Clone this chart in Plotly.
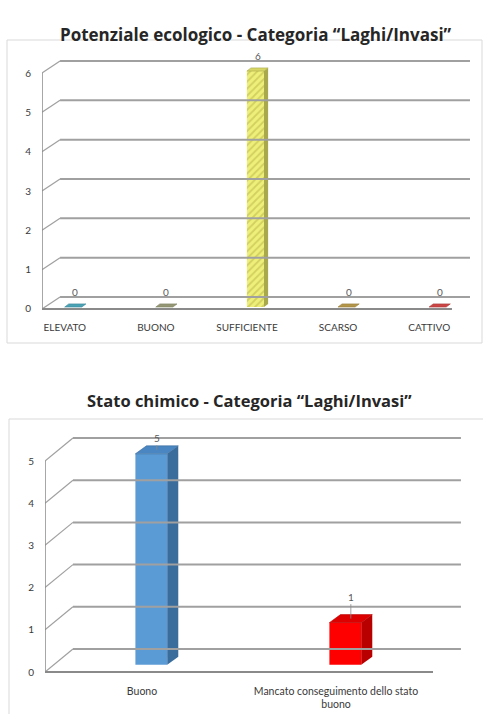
import plotly.graph_objects as go

# ---------------------------------------------------------------- data
eco_title = "Potenziale ecologico - Categoria \u201cLaghi/Invasi\u201d"
eco_categories = ["ELEVATO", "BUONO", "SUFFICIENTE", "SCARSO", "CATTIVO"]
eco_values = [0, 0, 6, 0, 0]
eco_ticks = [0, 1, 2, 3, 4, 5, 6]

chem_title = "Stato chimico - Categoria \u201cLaghi/Invasi\u201d"
chem_categories = ["Buono", "Mancato conseguimento dello stato<br>buono"]
chem_values = [5, 1]
chem_ticks = [0, 1, 2, 3, 4, 5]

# ---------------------------------------------------------------- styles
W, H = 483, 714

eco_face = ["#5ab4c6", "#a9ab86", "#eeee7a", "#c9ab5a", "#e35656"]
eco_hatch = ["#3b8ea0", "#7e8060", "#b5b346", "#9c7f35", "#b83030"]
eco_side = ["#3c8798", "#7f8163", "#a9a94c", "#977c3a", "#a83a3a"]
eco_top = ["#4aa2b4", "#959774", "#d6d664", "#b3964a", "#cc4646"]

chem_face = ["#5b9bd5", "#ff0000"]
chem_side = ["#3a6c9c", "#b80000"]
chem_top = ["#4a86c2", "#dc0000"]

GRID = "#a0a0a0"
AXIS = "#8a8a8a"
TXT = "#3a3a3a"

# panel geometry (pixels and 3-D depth in data units)
eco_geo = dict(x_front=42, x_back_end=470, px_per_cat=91.1, y_zero=309, px_per_unit=39.33,
               y_lo=-0.2, y_hi=6.5, cat_lo=-0.25, cat_hi=4.25,
               dx=0.198, dy=0.305, hw=0.094, off=0.093, bdx=0.045, bdy=0.08, base=0.05)
chem_geo = dict(x_front=45, x_back_end=465, px_per_cat=194.0, y_zero=672, px_per_unit=42.2,
                y_lo=-0.19, y_hi=6.0, cat_lo=-0.5, cat_hi=1.5,
                dx=0.144, dy=0.545, hw=0.082, off=0.048, bdx=0.057, bdy=0.19, base=0.17)


def domains(g):
    xr = [g["cat_lo"], g["cat_lo"] + (g["x_back_end"] - g["x_front"]) / g["px_per_cat"]]
    xd = [g["x_front"] / W, g["x_back_end"] / W]
    py_lo = g["y_zero"] - g["y_lo"] * g["px_per_unit"]
    py_hi = g["y_zero"] - g["y_hi"] * g["px_per_unit"]
    yd = [1 - py_lo / H, 1 - py_hi / H]
    return xr, xd, [g["y_lo"], g["y_hi"]], yd


fig = go.Figure()
shapes = []
annotations = []


def draw_panel(g, xa, ya, categories, values, ticks, face, side, top, hatch=None):
    xref, yref = xa, ya
    lo, hi = g["cat_lo"], g["cat_hi"]
    dx, dy = g["dx"], g["dy"]
    # back-wall gridlines with the diagonal links to the front axis
    for t in ticks:
        shapes.append(dict(type="line", xref=xref, yref=yref, x0=lo + dx, x1=hi + dx,
                           y0=t + dy, y1=t + dy, line=dict(color=GRID, width=2)))
        shapes.append(dict(type="line", xref=xref, yref=yref, x0=lo, x1=lo + dx,
                           y0=t, y1=t + dy, line=dict(color=GRID, width=1.2)))
    # front axis lines
    shapes.append(dict(type="line", xref=xref, yref=yref, x0=lo, x1=lo,
                       y0=0, y1=max(ticks), line=dict(color=AXIS, width=1.5)))
    shapes.append(dict(type="line", xref=xref, yref=yref, x0=lo, x1=hi,
                       y0=0, y1=0, line=dict(color=AXIS, width=2)))

    hw, off, bdx, bdy, b = g["hw"], g["off"], g["bdx"], g["bdy"], g["base"]
    for i, v in enumerate(values):
        cx = i + off
        top_y = b + v
        marker = dict(color=face[i], line=dict(width=0))
        if hatch is not None:
            marker["pattern"] = dict(shape="/", fgcolor=hatch[i], bgcolor=face[i],
                                     size=5, solidity=0.35)
        fig.add_trace(go.Bar(x=[cx], y=[v], base=[b], width=[2 * hw], marker=marker,
                             xaxis=xa, yaxis=ya, showlegend=False, hoverinfo="skip"))
        if v > 0:
            fig.add_trace(go.Scatter(
                x=[cx + hw, cx + hw + bdx, cx + hw + bdx, cx + hw, cx + hw],
                y=[b, b + bdy, top_y + bdy, top_y, b],
                fill="toself", fillcolor=side[i], mode="lines", line=dict(width=0),
                xaxis=xa, yaxis=ya, showlegend=False, hoverinfo="skip"))
        fig.add_trace(go.Scatter(
            x=[cx - hw, cx + hw, cx + hw + bdx, cx - hw + bdx, cx - hw],
            y=[top_y, top_y, top_y + bdy, top_y + bdy, top_y],
            fill="toself", fillcolor=top[i], mode="lines", line=dict(width=0.6, color=side[i]),
            xaxis=xa, yaxis=ya, showlegend=False, hoverinfo="skip"))


# ---------------------------------------------------------------- top chart
draw_panel(eco_geo, "x", "y", eco_categories, eco_values, eco_ticks,
           eco_face, eco_side, eco_top, hatch=eco_hatch)
for i, v in enumerate(eco_values):
    g = eco_geo
    annotations.append(dict(xref="x", yref="y", x=i + g["off"] + g["bdx"] / 2,
                            y=v + g["base"] + g["bdy"], text=str(v), showarrow=False,
                            yshift=12, font=dict(size=10, color="#595959", family="Lato")))

# ---------------------------------------------------------------- bottom chart
draw_panel(chem_geo, "x2", "y2", chem_categories, chem_values, chem_ticks,
           chem_face, chem_side, chem_top)
for i, v in enumerate(chem_values):
    g = chem_geo
    annotations.append(dict(xref="x2", yref="y2", x=i + g["off"] + g["bdx"] / 2,
                            y=v + g["base"] + g["bdy"] / 2, text=str(v),
                            showarrow=True, arrowhead=0, arrowwidth=0.8, arrowcolor="#8c8c8c",
                            ax=0, ay=-12 if v > 2 else -22,
                            font=dict(size=10, color="#595959", family="Lato")))

# titles
annotations.append(dict(xref="paper", yref="paper", x=256 / W, y=1 - 21 / H, text="<b>" + eco_title + "</b>",
                        showarrow=False, font=dict(size=17, color="#262626", family="Open Sans")))
annotations.append(dict(xref="paper", yref="paper", x=249 / W, y=1 - 400 / H, text="<b>" + chem_title + "</b>",
                        showarrow=False, font=dict(size=16.5, color="#262626", family="Open Sans")))

# chart frames
shapes.append(dict(type="rect", xref="paper", yref="paper", x0=7 / W, x1=482 / W,
                   y0=1 - 343 / H, y1=1 - 40 / H, line=dict(color="#d9d9d9", width=1), layer="below"))
shapes.append(dict(type="rect", xref="paper", yref="paper", x0=9 / W, x1=484 / W,
                   y0=1 - 722 / H, y1=1 - 419 / H, line=dict(color="#d9d9d9", width=1), layer="below"))

xr1, xd1, yr1, yd1 = domains(eco_geo)
xr2, xd2, yr2, yd2 = domains(chem_geo)

axis_common = dict(showgrid=False, zeroline=False, showline=False, ticks="", fixedrange=True)
fig.update_layout(
    width=W, height=H, margin=dict(l=0, r=0, t=0, b=0),
    paper_bgcolor="white", plot_bgcolor="rgba(0,0,0,0)",
    barmode="overlay", showlegend=False,
    font=dict(family="Lato", color=TXT),
    xaxis=dict(domain=xd1, range=xr1, anchor="y", tickvals=list(range(len(eco_categories))),
               ticktext=eco_categories, tickfont=dict(size=10, family="Lato", color=TXT),
               ticklabelstandoff=3, **axis_common),
    yaxis=dict(domain=yd1, range=yr1, anchor="x", tickvals=eco_ticks,
               tickfont=dict(size=10, family="Lato", color=TXT), ticklabelstandoff=10, **axis_common),
    xaxis2=dict(domain=xd2, range=xr2, anchor="y2", tickvals=list(range(len(chem_categories))),
                ticktext=chem_categories, tickfont=dict(size=10.5, family="Lato", color=TXT),
                ticklabelstandoff=3, **axis_common),
    yaxis2=dict(domain=yd2, range=yr2, anchor="x2", tickvals=chem_ticks,
                tickfont=dict(size=10, family="Lato", color=TXT), ticklabelstandoff=10, **axis_common),
    shapes=shapes, annotations=annotations,
)

fig.write_html("out.html")
